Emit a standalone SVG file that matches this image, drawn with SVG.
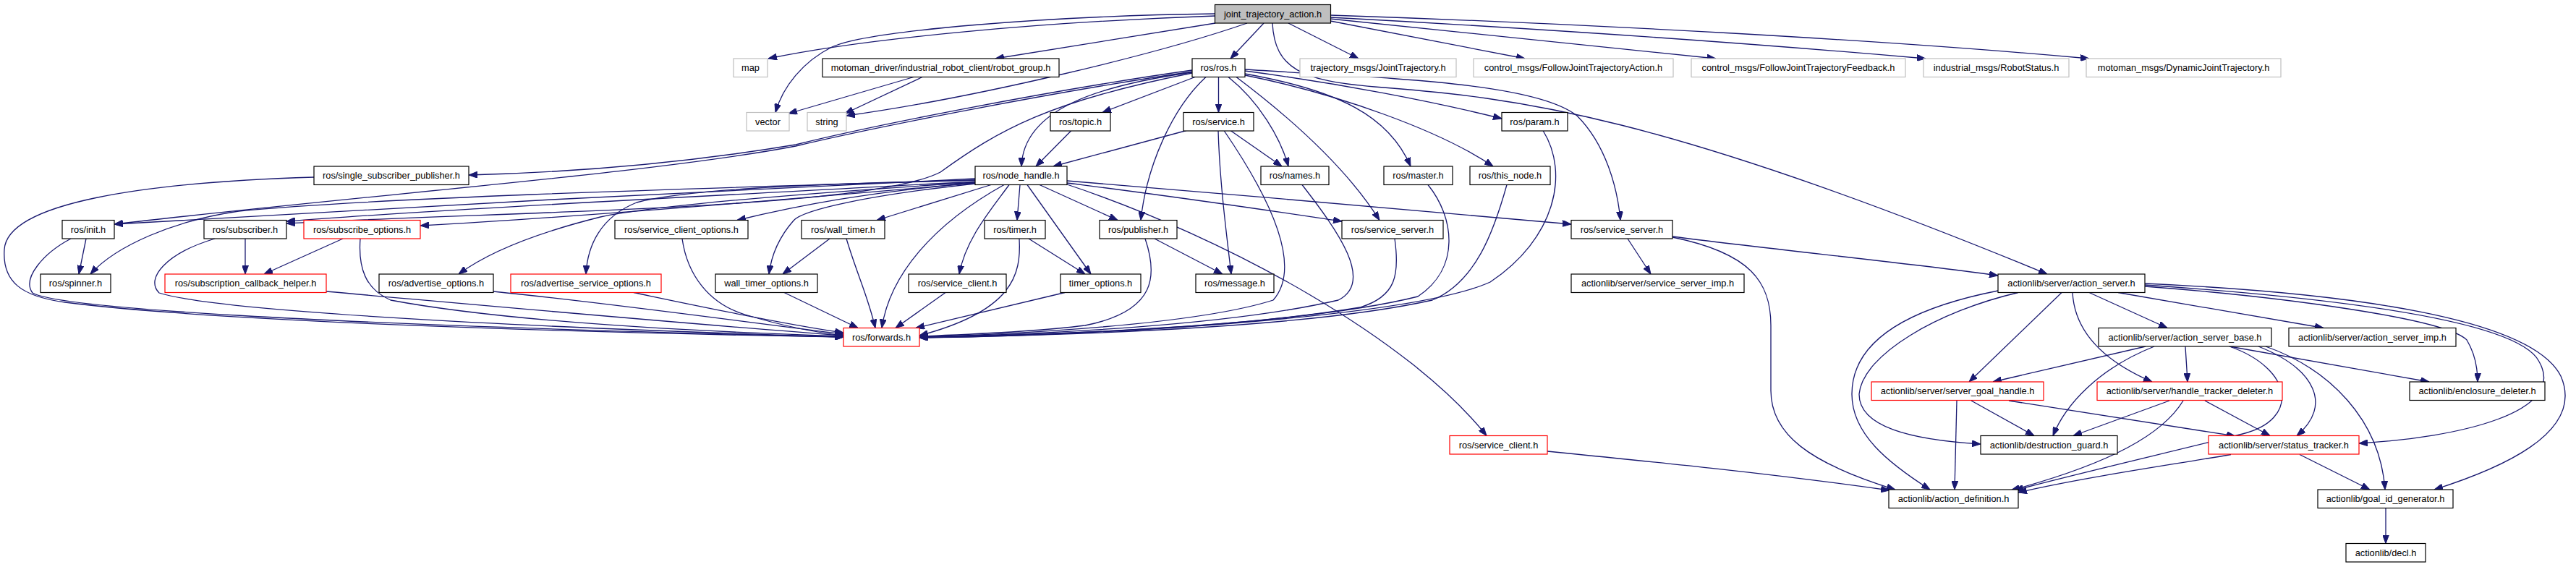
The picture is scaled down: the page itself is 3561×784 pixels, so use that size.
<svg xmlns="http://www.w3.org/2000/svg" width="3561" height="784" viewBox="0 0 3561 784">
<style>
.node rect{fill:#ffffff;stroke:#000000;stroke-width:1.2}
.node.ext rect{stroke:#bfbfbf}
.node.red rect{stroke:#ff0000}
.node.root rect{fill:#bfbfbf}
.node text{font-family:"Liberation Sans",Arial,Helvetica,sans-serif;font-size:12.8px;fill:#000000;text-anchor:middle}
#edges path{fill:none;stroke:#191970;stroke-width:1.3;marker-end:url(#arr)}
</style>
<defs>
<marker id="arr" viewBox="0 0 12 9" refX="12" refY="4.5" markerWidth="12" markerHeight="9" markerUnits="userSpaceOnUse" orient="auto">
<path d="M0,0 L12,4.5 L0,9 z" fill="#191970" stroke="#191970" stroke-width="1"/>
</marker>
</defs>
<rect x="0" y="0" width="3561" height="784" fill="#ffffff"/>
<g id="edges">
<path d="M1680,22 C1450,30 1200,52 1062,81"/>
<path d="M1680,19 C1450,22 1200,42 1150,65 C1110,85 1082,120 1072,155.5"/>
<path d="M1680,32 L1376,81"/>
<path d="M1724,32 C1600,75 1350,135 1170,160"/>
<path d="M1263,106.5 L1090,157"/>
<path d="M1275,106.5 L1168,157"/>
<path d="M1747,32 L1701,81"/>
<path d="M1781,32 L1878,81"/>
<path d="M1839,29 L2108,81"/>
<path d="M1839,26 L2372,81"/>
<path d="M1839,24 C2100,38 2400,58 2662,81"/>
<path d="M1839,21 C2200,33 2600,55 2888,81"/>
<path d="M1759,32 C1762,95 1800,112 1900,120 C2100,135 2300,160 2830,379"/>
<path d="M1652,106.5 L1524,155.5"/>
<path d="M1684.5,106.5 L1684.5,155.5"/>
<path d="M1648,100 C1520,118 1415,150 1412,230"/>
<path d="M1667,106.5 C1620,150 1585,230 1577,304.5"/>
<path d="M1698,106.5 C1740,140 1770,190 1781,230"/>
<path d="M1721,102 C1850,125 1920,160 1950,230"/>
<path d="M1721,104 C1850,130 1990,180 2064,230"/>
<path d="M1721,98 C1850,115 1980,140 2076,164"/>
<path d="M1709,106.5 C1780,160 1860,230 1907,304.5"/>
<path d="M1721,96 C1900,108 2120,112 2180,160 C2220,200 2236,260 2240,304.5"/>
<path d="M1648,97 C1450,125 1200,175 1100,200 C950,225 800,238 648,242"/>
<path d="M1648,99 C1450,128 1200,178 1100,202 C900,240 500,270 158,310"/>
<path d="M1648,101 C1450,140 1380,180 1300,238 C1200,290 700,292 396,309"/>
<path d="M1481,180.5 L1432,230"/>
<path d="M1640,180.5 L1456,230"/>
<path d="M1701,180.5 L1772,230"/>
<path d="M1684,180.5 C1686,250 1695,320 1702,379"/>
<path d="M1692,180.5 C1760,280 1800,370 1760,415 C1650,450 1400,462 1271,466"/>
<path d="M1348,247 C1000,262 500,290 158,310"/>
<path d="M1348,249 C900,262 500,275 330,292 C240,305 160,340 125,379"/>
<path d="M1348,251 C1000,270 600,290 396,306"/>
<path d="M1348,253 C1100,275 800,300 581,312"/>
<path d="M1348,252 C1100,268 900,285 830,300 C750,320 680,345 634,379"/>
<path d="M1348,249 C1100,255 950,262 880,280 C830,300 812,340 810,379"/>
<path d="M1348,253 C1200,265 1100,285 1019,304.5"/>
<path d="M1370,255.5 L1212,304.5"/>
<path d="M1348,254 C1200,270 1110,290 1097,305 C1075,330 1066,355 1063,379"/>
<path d="M1410,255.5 L1406,304.5"/>
<path d="M1395,255.5 C1370,290 1335,330 1326,379"/>
<path d="M1420,255.5 L1508,379"/>
<path d="M1437,255.5 L1545,304.5"/>
<path d="M1388,255.5 C1290,310 1230,380 1219,453.5"/>
<path d="M1475,253 C1650,275 1780,295 1855,306"/>
<path d="M1475,250 C1700,268 2000,295 2172,310"/>
<path d="M1475,255 C1700,330 1950,470 2055,602.5"/>
<path d="M1800,255.5 C1850,320 1900,390 1850,415 C1700,450 1450,462 1271,466"/>
<path d="M1928,330 C1935,380 1930,410 1880,425 C1700,455 1450,463 1271,466"/>
<path d="M1974,255.5 C2010,300 2020,370 1960,410 C1800,450 1450,464 1271,466"/>
<path d="M2083,255.5 C2065,320 2040,390 1980,415 C1800,455 1450,464 1271,467"/>
<path d="M2133,180.5 C2170,240 2150,330 2060,390 C1950,440 1500,465 1271,467"/>
<path d="M1409,330 C1412,380 1400,430 1271,464"/>
<path d="M1583,330 C1600,380 1600,430 1500,450 C1420,460 1320,463 1271,465"/>
<path d="M1472,404.5 L1266,453.5"/>
<path d="M1307,404.5 L1238,453.5"/>
<path d="M1170,330 C1185,380 1200,410 1210,453.5"/>
<path d="M1084,404.5 L1186,453.5"/>
<path d="M434,245 C200,252 10,280 6,345 C3,390 30,410 90,418 C300,445 800,460 1166,466"/>
<path d="M98,330 C60,350 30,385 45,405 C80,425 400,448 1166,466"/>
<path d="M297,330 C230,350 200,385 220,405 C300,430 700,452 1166,466"/>
<path d="M498,330 C495,370 505,400 540,415 C700,445 950,458 1166,465"/>
<path d="M451,403 C700,425 950,448 1166,464"/>
<path d="M682,403 C850,420 1050,448 1166,462"/>
<path d="M876,404.5 C950,420 1080,448 1166,460"/>
<path d="M943,330 C950,380 980,420 1030,435 C1080,450 1130,460 1166,464"/>
<path d="M1422,330 L1500,379"/>
<path d="M1596,330 L1690,379"/>
<path d="M1147,330 L1082,379"/>
<path d="M339,330 L339,379"/>
<path d="M474,330 L365,379"/>
<path d="M119,330 L109,379"/>
<path d="M2250,330 L2282,379"/>
<path d="M2312,327 C2450,345 2650,365 2762,381"/>
<path d="M2312,328 C2420,350 2448,390 2448,450 L2448,540 C2448,600 2500,640 2620,677"/>
<path d="M2139,624 C2300,640 2450,655 2612,678"/>
<path d="M2762,402 C2620,430 2560,480 2560,545 C2560,600 2610,640 2668,677"/>
<path d="M2790,404.5 C2680,430 2575,490 2570,545 C2570,590 2640,608 2738,614"/>
<path d="M2850,404.5 L2722,528"/>
<path d="M2865,404.5 C2868,460 2910,500 2975,528"/>
<path d="M2888,404.5 L2996,453.5"/>
<path d="M2928,404.5 L3212,453.5"/>
<path d="M2965,396 C3150,410 3380,440 3410,470 C3422,490 3425,510 3425,528"/>
<path d="M2965,394 C3200,410 3480,440 3510,500 C3550,570 3400,605 3261,613"/>
<path d="M2965,392 C3250,405 3500,440 3540,520 C3575,600 3450,650 3365,677"/>
<path d="M2966,479 L2755,528"/>
<path d="M2978,479 C2900,510 2855,560 2838,602.5"/>
<path d="M3021,479 L3024,528"/>
<path d="M3082,479 C3170,510 3180,580 3100,600 C3000,625 2850,660 2785,678"/>
<path d="M3122,479 C3200,510 3225,560 3175,602.5"/>
<path d="M3132,479 C3220,510 3290,580 3297,677"/>
<path d="M3082,479 L3358,528"/>
<path d="M2705,554 L2702,677"/>
<path d="M2725,554 L2812,602.5"/>
<path d="M2777,554 L3090,603"/>
<path d="M2999,554 L2866,602.5"/>
<path d="M3018,554 C2990,600 2920,640 2780,678"/>
<path d="M3048,554 L3138,602.5"/>
<path d="M3084,628.5 C3000,643 2880,660 2790,681"/>
<path d="M3179,628.5 L3276,677"/>
<path d="M3298,702.5 L3298,751.5"/>
</g>
<g id="n_jta" class="node root"><rect x="1679.5" y="6.5" width="160" height="25.5"/><text x="1759.5" y="23.8">joint_trajectory_action.h</text></g>
<g id="n_map" class="node ext"><rect x="1014" y="81" width="47" height="25.5"/><text x="1037.5" y="98.3">map</text></g>
<g id="n_robot_group" class="node"><rect x="1137" y="81" width="327" height="25.5"/><text x="1300.5" y="98.3">motoman_driver/industrial_robot_client/robot_group.h</text></g>
<g id="n_ros" class="node"><rect x="1648" y="81" width="73" height="25.5"/><text x="1684.5" y="98.3">ros/ros.h</text></g>
<g id="n_traj" class="node ext"><rect x="1797" y="81" width="216" height="25.5"/><text x="1905" y="98.3">trajectory_msgs/JointTrajectory.h</text></g>
<g id="n_fjta" class="node ext"><rect x="2037" y="81" width="276" height="25.5"/><text x="2175" y="98.3">control_msgs/FollowJointTrajectoryAction.h</text></g>
<g id="n_fjtf" class="node ext"><rect x="2338" y="81" width="296" height="25.5"/><text x="2486" y="98.3">control_msgs/FollowJointTrajectoryFeedback.h</text></g>
<g id="n_robotstatus" class="node ext"><rect x="2659" y="81" width="201" height="25.5"/><text x="2759.5" y="98.3">industrial_msgs/RobotStatus.h</text></g>
<g id="n_dynjt" class="node ext"><rect x="2884" y="81" width="269" height="25.5"/><text x="3018.5" y="98.3">motoman_msgs/DynamicJointTrajectory.h</text></g>
<g id="n_vector" class="node ext"><rect x="1032" y="155.5" width="59" height="25.5"/><text x="1061.5" y="172.8">vector</text></g>
<g id="n_string" class="node ext"><rect x="1116" y="155.5" width="54" height="25.5"/><text x="1143" y="172.8">string</text></g>
<g id="n_topic" class="node"><rect x="1452" y="155.5" width="83" height="25.5"/><text x="1493.5" y="172.8">ros/topic.h</text></g>
<g id="n_service" class="node"><rect x="1636" y="155.5" width="97" height="25.5"/><text x="1684.5" y="172.8">ros/service.h</text></g>
<g id="n_param" class="node"><rect x="2076" y="155.5" width="91" height="25.5"/><text x="2121.5" y="172.8">ros/param.h</text></g>
<g id="n_ssp" class="node"><rect x="434" y="230" width="214" height="25.5"/><text x="541" y="247.3">ros/single_subscriber_publisher.h</text></g>
<g id="n_node_handle" class="node"><rect x="1348" y="230" width="127" height="25.5"/><text x="1411.5" y="247.3">ros/node_handle.h</text></g>
<g id="n_names" class="node"><rect x="1743" y="230" width="94" height="25.5"/><text x="1790" y="247.3">ros/names.h</text></g>
<g id="n_master" class="node"><rect x="1913" y="230" width="95" height="25.5"/><text x="1960.5" y="247.3">ros/master.h</text></g>
<g id="n_this_node" class="node"><rect x="2032" y="230" width="111" height="25.5"/><text x="2087.5" y="247.3">ros/this_node.h</text></g>
<g id="n_init" class="node"><rect x="86" y="304.5" width="72" height="25.5"/><text x="122" y="321.8">ros/init.h</text></g>
<g id="n_subscriber" class="node"><rect x="282" y="304.5" width="114" height="25.5"/><text x="339" y="321.8">ros/subscriber.h</text></g>
<g id="n_subscribe_options" class="node red"><rect x="420" y="304.5" width="161" height="25.5"/><text x="500.5" y="321.8">ros/subscribe_options.h</text></g>
<g id="n_service_client_options" class="node"><rect x="850" y="304.5" width="184" height="25.5"/><text x="942" y="321.8">ros/service_client_options.h</text></g>
<g id="n_wall_timer" class="node"><rect x="1108" y="304.5" width="115" height="25.5"/><text x="1165.5" y="321.8">ros/wall_timer.h</text></g>
<g id="n_timer" class="node"><rect x="1361" y="304.5" width="84" height="25.5"/><text x="1403" y="321.8">ros/timer.h</text></g>
<g id="n_publisher" class="node"><rect x="1520" y="304.5" width="107" height="25.5"/><text x="1573.5" y="321.8">ros/publisher.h</text></g>
<g id="n_service_server_a" class="node"><rect x="1855" y="304.5" width="140" height="25.5"/><text x="1925" y="321.8">ros/service_server.h</text></g>
<g id="n_service_server_b" class="node"><rect x="2172" y="304.5" width="140" height="25.5"/><text x="2242" y="321.8">ros/service_server.h</text></g>
<g id="n_spinner" class="node"><rect x="56" y="379" width="97" height="25.5"/><text x="104.5" y="396.3">ros/spinner.h</text></g>
<g id="n_sch" class="node red"><rect x="228" y="379" width="223" height="25.5"/><text x="339.5" y="396.3">ros/subscription_callback_helper.h</text></g>
<g id="n_advertise_options" class="node"><rect x="524" y="379" width="158" height="25.5"/><text x="603" y="396.3">ros/advertise_options.h</text></g>
<g id="n_advertise_service_options" class="node red"><rect x="706" y="379" width="208" height="25.5"/><text x="810" y="396.3">ros/advertise_service_options.h</text></g>
<g id="n_wall_timer_options" class="node"><rect x="989" y="379" width="141" height="25.5"/><text x="1059.5" y="396.3">wall_timer_options.h</text></g>
<g id="n_service_client_1" class="node"><rect x="1256" y="379" width="135" height="25.5"/><text x="1323.5" y="396.3">ros/service_client.h</text></g>
<g id="n_timer_options" class="node"><rect x="1466" y="379" width="111" height="25.5"/><text x="1521.5" y="396.3">timer_options.h</text></g>
<g id="n_message" class="node"><rect x="1653" y="379" width="108" height="25.5"/><text x="1707" y="396.3">ros/message.h</text></g>
<g id="n_service_server_imp" class="node"><rect x="2172" y="379" width="239" height="25.5"/><text x="2291.5" y="396.3">actionlib/server/service_server_imp.h</text></g>
<g id="n_action_server" class="node"><rect x="2762" y="379" width="203" height="25.5"/><text x="2863.5" y="396.3">actionlib/server/action_server.h</text></g>
<g id="n_forwards" class="node red"><rect x="1166" y="453.5" width="105" height="25.5"/><text x="1218.5" y="470.8">ros/forwards.h</text></g>
<g id="n_action_server_base" class="node"><rect x="2901" y="453.5" width="239" height="25.5"/><text x="3020.5" y="470.8">actionlib/server/action_server_base.h</text></g>
<g id="n_action_server_imp" class="node"><rect x="3164" y="453.5" width="231" height="25.5"/><text x="3279.5" y="470.8">actionlib/server/action_server_imp.h</text></g>
<g id="n_server_goal_handle" class="node red"><rect x="2587" y="528" width="238" height="25.5"/><text x="2706" y="545.3">actionlib/server/server_goal_handle.h</text></g>
<g id="n_handle_tracker_deleter" class="node red"><rect x="2899" y="528" width="256" height="25.5"/><text x="3027" y="545.3">actionlib/server/handle_tracker_deleter.h</text></g>
<g id="n_enclosure_deleter" class="node"><rect x="3331" y="528" width="187" height="25.5"/><text x="3424.5" y="545.3">actionlib/enclosure_deleter.h</text></g>
<g id="n_service_client_2" class="node red"><rect x="2004" y="602.5" width="135" height="25.5"/><text x="2071.5" y="619.8">ros/service_client.h</text></g>
<g id="n_destruction_guard" class="node"><rect x="2738" y="602.5" width="189" height="25.5"/><text x="2832.5" y="619.8">actionlib/destruction_guard.h</text></g>
<g id="n_status_tracker" class="node red"><rect x="3053" y="602.5" width="208" height="25.5"/><text x="3157" y="619.8">actionlib/server/status_tracker.h</text></g>
<g id="n_action_definition" class="node"><rect x="2611" y="677" width="179" height="25.5"/><text x="2700.5" y="694.3">actionlib/action_definition.h</text></g>
<g id="n_goal_id_generator" class="node"><rect x="3204" y="677" width="187" height="25.5"/><text x="3297.5" y="694.3">actionlib/goal_id_generator.h</text></g>
<g id="n_decl" class="node"><rect x="3243" y="751.5" width="110" height="25.5"/><text x="3298" y="768.8">actionlib/decl.h</text></g>
</svg>
